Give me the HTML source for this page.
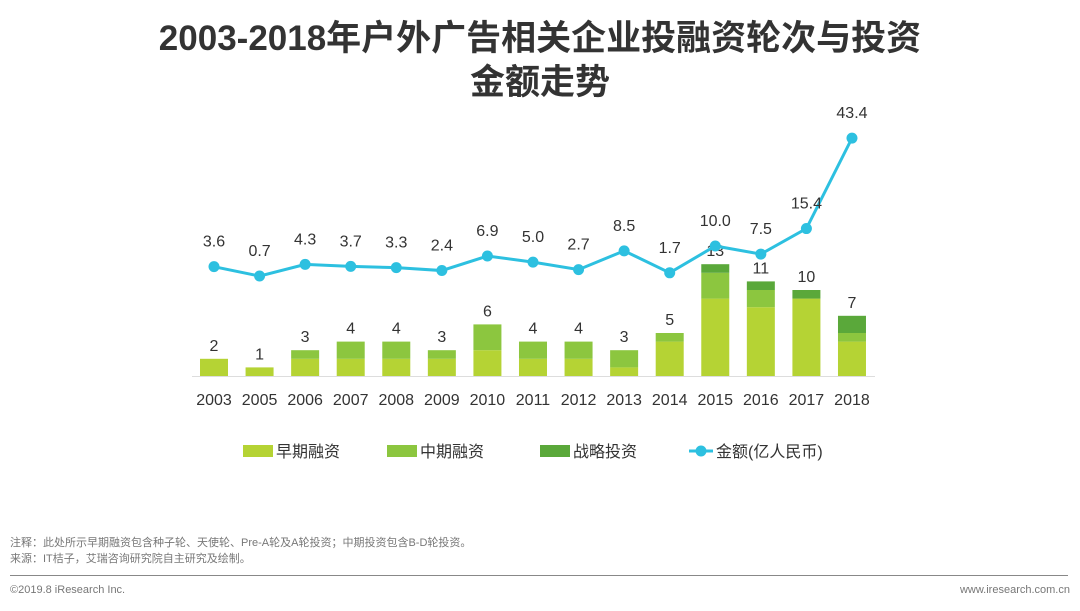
<!DOCTYPE html>
<html><head><meta charset="utf-8"><style>
body{margin:0;width:1080px;height:611px;background:#fff;font-family:"Liberation Sans","Noto Sans CJK SC",sans-serif;overflow:hidden;position:relative}
.t{position:absolute;left:0;width:1080px;text-align:center;font-weight:bold;font-size:35px;color:#333;line-height:44px}
.note{position:absolute;left:10px;font-size:11px;color:#777}
</style></head><body>
<div class="t" style="top:17px">2003-2018年户外广告相关企业投融资轮次与投资<br>金额走势</div>
<svg id="c" width="1080" height="611" style="position:absolute;left:0;top:0"></svg>
<div class="note" style="top:534px">注释：此处所示早期融资包含种子轮、天使轮、Pre-A轮及A轮投资；中期投资包含B-D轮投资。</div>
<div class="note" style="top:550px">来源：IT桔子，艾瑞咨询研究院自主研究及绘制。</div>
<div style="position:absolute;left:10px;top:575px;width:1058px;height:1px;background:#888"></div>
<div class="note" style="top:584px">©2019.8 iResearch Inc.</div>
<div class="note" style="top:584px;left:auto;right:10px">www.iresearch.com.cn</div>
<script>
const years=["2003","2005","2006","2007","2008","2009","2010","2011","2012","2013","2014","2015","2016","2017","2018"];
const early=[2,1,2,2,2,2,3,2,2,1,4,9,8,9,4];
const mid=[0,0,1,2,2,1,3,2,2,2,1,3,2,0,1];
const strat=[0,0,0,0,0,0,0,0,0,0,0,1,1,1,2];
const amount=[3.6,0.7,4.3,3.7,3.3,2.4,6.9,5.0,2.7,8.5,1.7,10.0,7.5,15.4,43.4];
const amountLabels=["3.6","0.7","4.3","3.7","3.3","2.4","6.9","5.0","2.7","8.5","1.7","10.0","7.5","15.4","43.4"];
const svg=document.getElementById('c');const NS='http://www.w3.org/2000/svg';
function mk(t,a){const e=document.createElementNS(NS,t);for(const k in a)e.setAttribute(k,a[k]);svg.appendChild(e);return e;}
const x=i=>214+i*45.57;
const yb=v=>376-v*8.6;
const yl=v=>278.3-v*3.23;
const cols=["#b5d334","#8cc63f","#5aa83a"];
let ax=mk('line',{x1:192,x2:875,y1:376.5,y2:376.5,stroke:'#ddd'});


years.forEach((yr,i)=>{
  let base=0;[early[i],mid[i],strat[i]].forEach((v,k)=>{if(!v)return;
    const r=mk('rect',{x:x(i)-14,width:28,y:yb(base+v),height:v*8.6,fill:cols[k]});
    
    
    base+=v;});
  const tl=mk('text',{x:x(i),y:yb(base)-8,'text-anchor':'middle','font-size':16,fill:'#333'});tl.textContent=base;
  
  
  const xl=mk('text',{x:x(i),y:405,'text-anchor':'middle','font-size':16,fill:'#333'});xl.textContent=yr;
  
  
});
const pl=mk('polyline',{points:amount.map((v,i)=>x(i)+','+yl(v)).join(' '),fill:'none',stroke:'#2dc0e0','stroke-width':3});


amount.forEach((v,i)=>{
  const c=mk('circle',{cx:x(i),cy:yl(v),r:5.5,fill:'#2dc0e0'});
  
  
  const t=mk('text',{x:x(i),y:yl(v)-20,'text-anchor':'middle','font-size':16,fill:'#333'});t.textContent=amountLabels[i];
  
  
});
const leg=[["早期融资",243,cols[0]],["中期融资",387,cols[1]],["战略投资",540,cols[2]]];
leg.forEach(l=>{
  const r=mk('rect',{x:l[1],y:445,width:30,height:12,fill:l[2]});
  
  
  const t=mk('text',{x:l[1]+33,y:457,'font-size':16,fill:'#333'});t.textContent=l[0];
  
  
});
const ll=mk('line',{x1:689,x2:713,y1:451,y2:451,stroke:'#2dc0e0','stroke-width':3});


const lc=mk('circle',{cx:701,cy:451,r:5.5,fill:'#2dc0e0'});


const lt=mk('text',{x:716,y:457,'font-size':16,fill:'#333'});lt.textContent="金额(亿人民币)";


</script>
</body></html>
